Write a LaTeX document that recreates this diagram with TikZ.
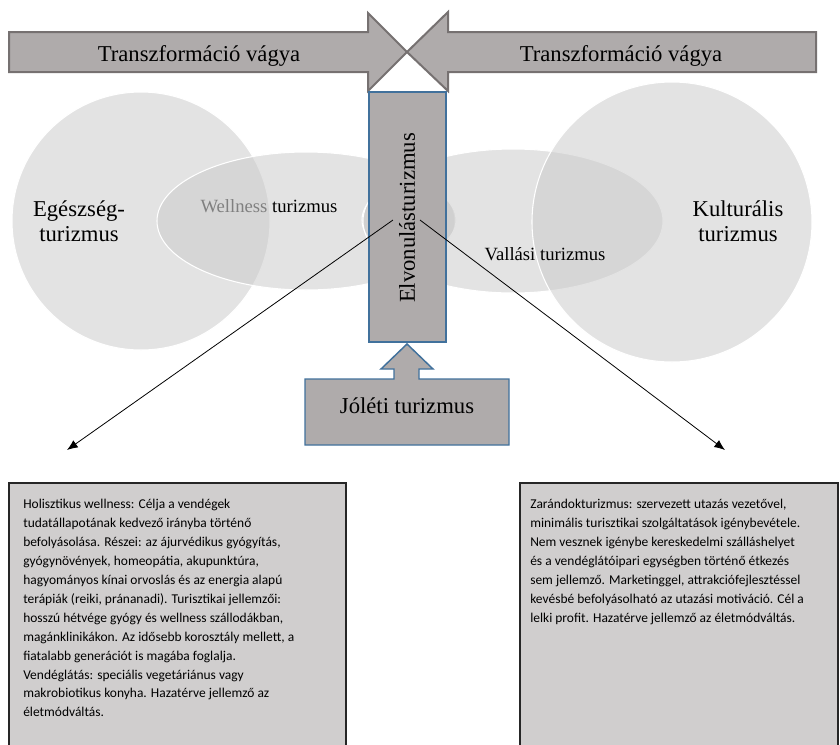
\documentclass[tikz,border=0pt]{standalone}
\usepackage{fontspec}
\setmainfont{Liberation Serif}
\newfontfamily\calibri{Carlito}
\usetikzlibrary{arrows.meta,positioning,calc}
\definecolor{arrowgray}{HTML}{AFABAB}
\definecolor{arrowedge}{HTML}{767171}
\definecolor{boxblue}{HTML}{41719C}
\definecolor{notefill}{HTML}{D0CECE}
\definecolor{bubblefill}{HTML}{CCCCCC}
\tikzset{>={Latex[length=8pt,width=6.5pt]}}
\tikzset{
  bigarrow/.style={fill=arrowgray,draw=arrowedge,line width=1.5pt},
  bluebox/.style={fill=arrowgray,draw=boxblue,line width=1.1pt},
  bubble/.style={fill=bubblefill,fill opacity=0.55,draw=white,line width=0.8pt},
  bigtext/.style={font=\fontsize{17}{19}\selectfont,align=center,inner sep=0pt},
  midtext/.style={font=\fontsize{14}{16}\selectfont,inner sep=0pt},
  notebox/.style={fill=notefill,draw=black!85,line width=1.1pt},
  notetext/.style={font=\calibri\fontsize{10.1}{14.2}\selectfont,align=left,inner sep=0pt,anchor=north west}
}

\begin{document}
\begin{tikzpicture}[x=0.75pt,y=-0.75pt]
    \useasboundingbox (0,0) rectangle (840,744);
    \clip (0,0) rectangle (840,744);
    \fill[white] (0,0) rectangle (840,744);
    \path[bubble] (141,221) circle [radius=129];
    \path[bubble] (306,221) ellipse [x radius=149,y radius=69];
    \path[bubble] (409,220) ellipse [x radius=47,y radius=34];
    \path[bubble] (513,221) ellipse [x radius=150,y radius=72];
    \path[bubble] (672,222) circle [radius=140];
    \node[bigtext] (egeszseg) at (79,221) {Egészség-\\turizmus};
    \node[midtext] (wellness) at (269,206) {\textcolor{black!50}{Wellness} turizmus};
    \node[midtext] (vallasi) at (545,254) {Vallási turizmus};
    \node[bigtext] (kultur) at (738,221) {Kulturális\\turizmus};
    \draw[bigarrow] (9,32) -- (368,32) -- (368,13) -- (407,52) -- (368,91) -- (368,72) -- (9,72) -- cycle;
    \draw[bigarrow] (816,32) -- (448,32) -- (448,12) -- (407,52) -- (448,91) -- (448,72) -- (816,72) -- cycle;
    \node[bigtext] (vagyL) at (199,56) {Transzformáció vágya};
    \node[bigtext] (vagyR) at (621,56) {Transzformáció vágya};
    \draw[bluebox] (369,92) rectangle (446,342);
    \node[bigtext,rotate=90] (elvonulas) at (407,218) {Elvonulásturizmus};
    \draw[bluebox] (305,379) -- (394,379) -- (394,369) -- (381,369) -- (407,344) -- (433,369) -- (419,369) -- (419,379) -- (509,379) -- (509,445) -- (305,445) -- cycle;
    \node[bigtext] (joleti) at (407,406) {Jóléti turizmus};
    \coordinate (hubL) at (393,220);
    \coordinate (hubR) at (420,220);
    \coordinate (tipL) at (67,450);
    \coordinate (tipR) at (725,450);
    \draw[->,line width=0.6pt] (hubL) -- (tipL);
    \draw[->,line width=0.6pt] (hubR) -- (tipR);
    \draw[notebox] (9,483) rectangle (346,760);
    \draw[notebox] (520,483) rectangle (838,760);
    \node[notetext] (holiszt) at (23,499) {Holisztikus wellness: Célja a vendégek\\
      tudatállapotának kedvező irányba történő\\
      befolyásolása. Részei: az ájurvédikus gyógyítás,\\
      gyógynövények, homeopátia, akupunktúra,\\
      hagyományos kínai orvoslás és az energia alapú\\
      terápiák (reiki, prána­nadi). Turisztikai jellemzői:\\
      hosszú hétvége gyógy és wellness szállodákban,\\
      magánklinikákon. Az idősebb korosztály mellett, a\\
      fiatalabb generációt is magába foglalja.\\
      Vendéglátás: speciális vegetáriánus vagy\\
      makrobiotikus konyha. Hazatérve jellemző az\\
      életmódváltás.};
    \node[notetext] (zarandok) at (530,499) {Zarándokturizmus: szervezett utazás vezetővel,\\
      minimális turisztikai szolgáltatások igénybevétele.\\
      Nem vesznek igénybe kereskedelmi szálláshelyet\\
      és a vendéglátóipari egységben történő étkezés\\
      sem jellemző. Marketinggel, attrakciófejlesztéssel\\
      kevésbé befolyásolható az utazási motiváció. Cél a\\
      lelki profit. Hazatérve jellemző az életmódváltás.};
  \end{tikzpicture}
\end{document}
